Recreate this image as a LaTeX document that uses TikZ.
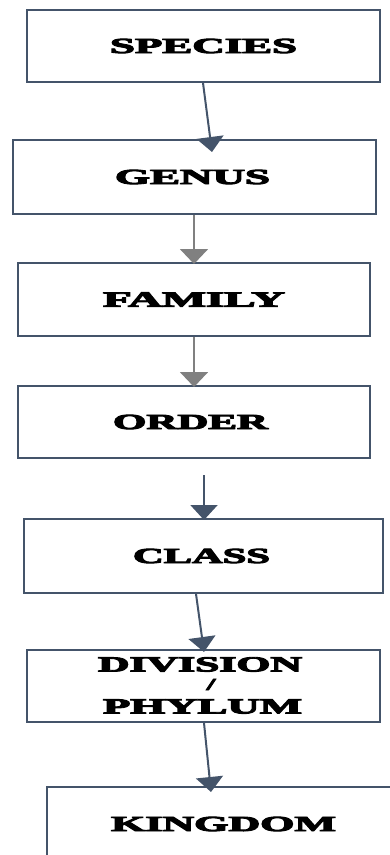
\documentclass[tikz,border=0pt]{standalone}
\usepackage{graphicx}
\usepackage{fontspec}
\setmainfont{Liberation Serif}[BoldFeatures={FakeBold=4}]
\usetikzlibrary{arrows.meta,calc}
\definecolor{edgeblue}{HTML}{44546A}
\definecolor{arrgray}{HTML}{808080}
\newcommand{\lbl}[2]{\resizebox{#1pt}{\height}{\fontsize{21.5}{20}\selectfont\bfseries #2}}
\begin{document}
\begin{tikzpicture}[x=1pt,y=-1pt,
  rankbox/.style={draw=edgeblue,line width=1.8pt,fill=white,inner sep=0pt,minimum height=72pt},
  txt/.style={inner sep=0pt},
  arrblue/.style={draw=edgeblue,line width=2pt,-{Triangle[width=27pt 0,length=15pt 0 0]}},
  arrgrey/.style={draw=arrgray,line width=2pt,-{Triangle[width=28pt 0,length=15pt 0 0]}}]
\useasboundingbox (0,0) rectangle (390,855);
\clip (0,0) rectangle (390,855);
% boxes
\node[rankbox,minimum width=353pt,minimum height=72pt] (species) at (203.5,46) {\lbl{187}{SPECIES}};
\node[rankbox,minimum width=363pt,minimum height=74pt] (genus) at (194.5,177) {\hspace*{-4pt}\lbl{155}{GENUS}};
\node[rankbox,minimum width=352pt,minimum height=73pt] (family) at (194,299.5) {\lbl{182}{FAMILY}};
\node[rankbox,minimum width=352pt,minimum height=72pt] (order) at (194,422) {\hspace*{-7pt}\lbl{155}{ORDER}};
\node[rankbox,minimum width=359pt,minimum height=74pt] (class) at (203.5,556) {\hspace*{-4pt}\lbl{137}{CLASS}};
\node[rankbox,minimum width=353pt,minimum height=72pt] (division) at (203.5,686) {};
\node[txt] (divA) at (200,664.5) {\lbl{204}{DIVISION}};
\node[txt] (divB) at (211,684.5) {\resizebox{9pt}{\height}{\fontsize{16.5}{16.5}\selectfont\bfseries /}};
\node[txt] (divC) at (202.5,706.5) {\lbl{199}{PHYLUM}};
\node[rankbox,minimum width=353pt,minimum height=74pt] (kingdom) at (223.5,824) {\lbl{225}{KINGDOM}};
% connector points
\coordinate (a1s) at (species.south -| 203,0);
\coordinate (a1e) at (212,152);
\coordinate (a2s) at (genus.south -| 194,0);
\coordinate (a2e) at (194,264);
\coordinate (a3s) at (family.south -| 194,0);
\coordinate (a3e) at (194,387);
\coordinate (a4s) at (204,475);
\coordinate (a4e) at (204,520);
\coordinate (a5s) at (class.south -| 196,0);
\coordinate (a5e) at (204,652);
\coordinate (a6s) at (division.south -| 204,0);
\coordinate (a6e) at (211,792);
% arrows
\draw[arrblue] (a1s) -- (a1e);
\draw[arrgrey] (a2s) -- (a2e);
\draw[arrgrey] (a3s) -- (a3e);
\draw[arrblue] (a4s) -- (a4e);
\draw[arrblue] (a5s) -- (a5e);
\draw[arrblue] (a6s) -- (a6e);
\end{tikzpicture}
\end{document}
